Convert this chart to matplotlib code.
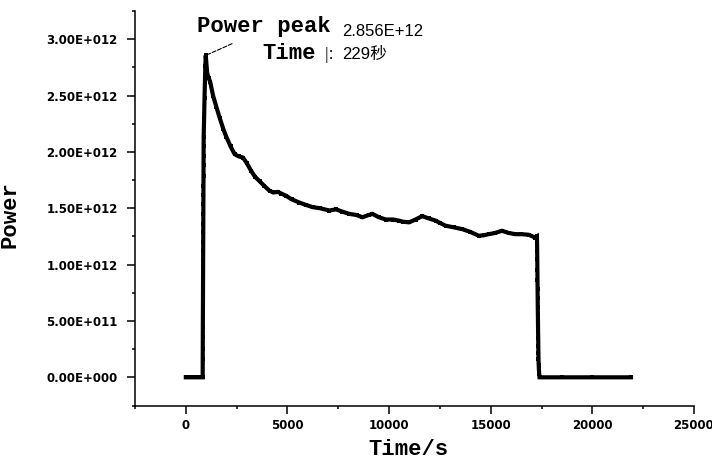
import matplotlib
matplotlib.use('Agg')
import matplotlib.pyplot as plt
import numpy as np
from matplotlib.ticker import MultipleLocator, FuncFormatter

# data (time in s, power)
time_s = [0, 200, 400, 600, 800, 830,
          832, 834, 836, 838, 840, 842, 844, 846, 848, 850, 852, 854, 856, 858,
          860, 862, 864, 866, 868, 870, 872, 874, 876, 878,
          900, 920, 940, 960, 980,
          1050, 1120, 1200, 1340, 1500, 1670, 1850, 2000, 2200, 2400, 2600, 2810,
          3000, 3220, 3400, 3630, 3850, 4120, 4300, 4525, 4700, 4935, 5200, 5590,
          5900, 6240, 6600, 7060, 7390, 7700, 8040, 8400, 8690, 9000, 9180, 9500,
          9840, 10200, 10490, 10700, 10980, 11300, 11630, 11950, 12290, 12500,
          12780, 13200, 13590, 14000, 14410, 14650, 14900, 15200, 15550, 15900,
          16210, 16500, 16860, 17190, 17270,
          17280, 17285, 17290, 17295, 17300, 17305, 17310, 17315,
          17320, 17325, 17330, 17335, 17340, 17345, 17350, 17360, 17370, 17385,
          17400, 18500, 20000, 21900]
power = [0, 0, 0, 0, 0, 0,
         0.163, 0.251, 0.355, 0.443, 0.527, 0.607, 0.680, 0.769, 0.857, 0.946,
         1.034, 1.123, 1.197, 1.286, 1.360, 1.449, 1.537, 1.62, 1.70, 1.79,
         1.88, 1.96, 2.05, 2.13,
         2.30, 2.48, 2.62, 2.76, 2.856,
         2.70, 2.66, 2.62, 2.50, 2.40, 2.30, 2.20, 2.13, 2.05, 1.98, 1.96, 1.95,
         1.90, 1.83, 1.78, 1.74, 1.70, 1.655, 1.64, 1.645, 1.63, 1.61, 1.58, 1.55,
         1.53, 1.51, 1.50, 1.48, 1.49, 1.47, 1.45, 1.44, 1.42, 1.44, 1.45, 1.42,
         1.40, 1.40, 1.39, 1.38, 1.375, 1.40, 1.43, 1.41, 1.39, 1.37,
         1.345, 1.33, 1.315, 1.29, 1.256, 1.26, 1.27, 1.28, 1.30, 1.28,
         1.27, 1.27, 1.265, 1.24, 1.25,
         1.20, 1.12, 1.05, 0.95, 0.86, 0.78, 0.70, 0.62,
         0.55, 0.48, 0.41, 0.35, 0.28, 0.22, 0.16, 0.11, 0.07, 0.03,
         0, 0, 0, 0]
power = np.array(power) * 1e12

peak_time = 980
peak_power = 2.856e12

fig = plt.figure(figsize=(7.12, 4.61), dpi=100)
ax = fig.add_axes([135 / 712, 1 - 405.5 / 461, 559 / 712, 394.5 / 461])

ax.plot(time_s, power, color='black', lw=3.0, marker='s', ms=3.0, mew=0,
        solid_joinstyle='miter')

ax.set_xlim(-2500, 25000)
ax.set_ylim(-2.5e11, 3.25e12)

ax.spines['top'].set_visible(False)
ax.spines['right'].set_visible(False)
for s in ['left', 'bottom']:
    ax.spines[s].set_linewidth(1.1)

ax.xaxis.set_major_locator(MultipleLocator(5000))
ax.xaxis.set_minor_locator(MultipleLocator(2500))
ax.yaxis.set_major_locator(MultipleLocator(5e11))
ax.yaxis.set_minor_locator(MultipleLocator(2.5e11))


def sci_fmt(v, pos):
    if v == 0:
        return '0.00E+000'
    e = int(np.floor(np.log10(abs(v)) + 1e-9))
    m = v / 10 ** e
    return f'{m:.2f}E+{e:03d}'


ax.yaxis.set_major_formatter(FuncFormatter(sci_fmt))
ax.xaxis.set_major_formatter(FuncFormatter(lambda v, p: f'{int(v)}'))

ax.tick_params(axis='both', which='major', direction='out', length=5.5, width=1.1,
               labelsize=8.5)
ax.tick_params(axis='both', which='minor', direction='out', length=2.2, width=1.1)
ax.tick_params(axis='y', which='major', pad=7)
ax.tick_params(axis='x', which='major', pad=4.5)
for lab in ax.get_xticklabels() + ax.get_yticklabels():
    lab.set_fontweight('bold')
    lab.set_family('DejaVu Sans')

mono = 'Liberation Mono'
ax.set_xlabel('Time/s', family=mono, fontweight='bold', fontsize=16)
ax.xaxis.label.set_va('baseline')
ax.xaxis.set_label_coords(0.49, -0.125)
ax.set_ylabel('Power', family=mono, fontweight='bold', fontsize=16)
ax.yaxis.set_label_coords(-0.205, 0.483)

# peak annotation
cjk = ['Liberation Sans', 'Noto Sans CJK SC']
ax.annotate('', xy=(peak_time, peak_power), xytext=(2400, 2.97e12),
            arrowprops=dict(arrowstyle='-', ls='--', lw=0.8, color='black'))
ax.text(540, 3.067e12, 'Power peak', family=mono, fontweight='bold', fontsize=16,
        va='baseline', ha='left')
ax.text(7700, 3.032e12, '2.856E+12', family='Liberation Sans', fontsize=12,
        va='baseline', ha='left')
ax.text(3775, 2.822e12, 'Time', family=mono, fontweight='bold', fontsize=16,
        va='baseline', ha='left')
ax.text(6815, 2.822e12, '|：', family=['Noto Sans CJK SC', 'DejaVu Sans'], fontsize=10,
        va='baseline', ha='left')
ax.text(7700, 2.822e12, '229秒', family=cjk, fontsize=12,
        va='baseline', ha='left')

fig.savefig('out.png', dpi=100)
